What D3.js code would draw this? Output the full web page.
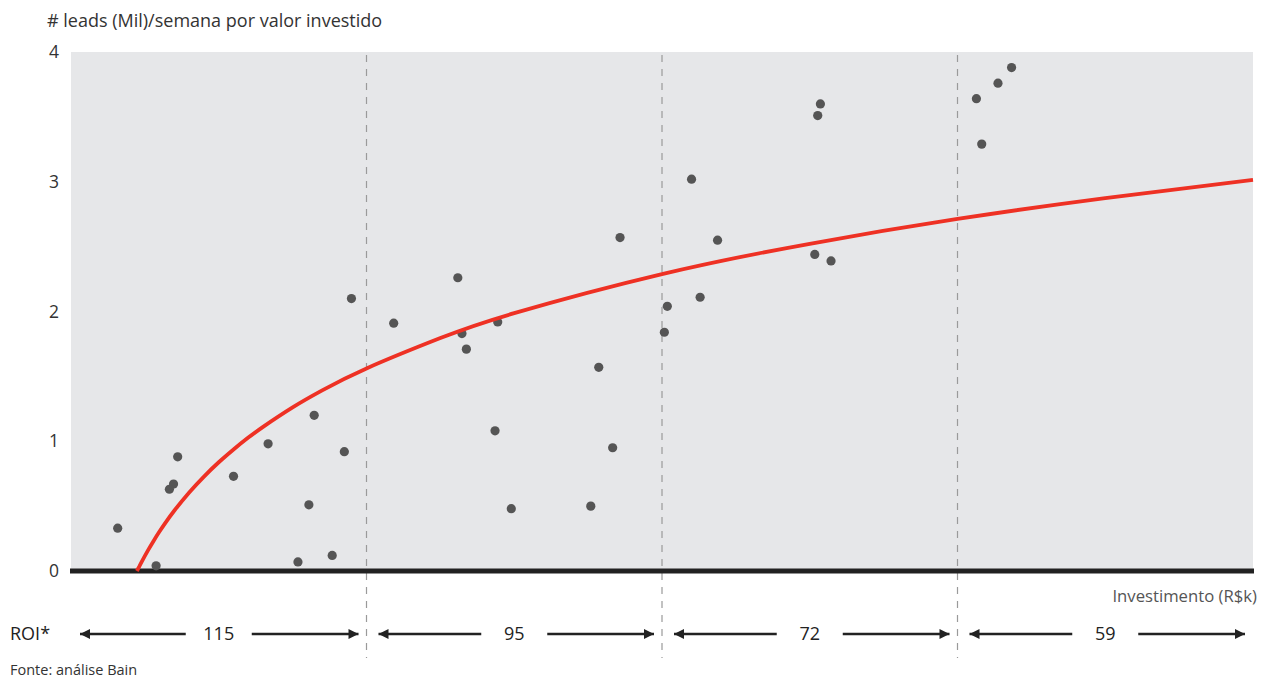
<!DOCTYPE html>
<html><head><meta charset="utf-8">
<script src="https://cdn.jsdelivr.net/npm/d3@7"></script>
<style>body{margin:0;background:#fff}svg{display:block}text{font-family:"Open Sans",sans-serif}</style>
</head><body><svg id="c" width="1269" height="680"></svg>
<script>
// Scatter points: investment (arbitrary units, 0-400) and leads (Mil)/semana
const pointX = [15.8,28.8,36.1,34.7,33.3,55.0,66.7,80.5,76.8,88.4,92.5,94.9,82.3,
  109.2,130.9,132.3,133.8,144.4,143.5,149.0,178.6,183.3,175.9,185.8,
  201.8,200.8,210.0,218.8,212.9,253.6,252.7,251.7,257.2,
  318.3,313.7,306.4,308.2];
const pointY = [0.33,0.04,0.88,0.67,0.63,0.73,0.98,0.51,0.07,0.12,0.92,2.10,1.20,
  1.91,2.26,1.83,1.71,1.92,1.08,0.48,1.57,0.95,0.50,2.57,
  2.04,1.84,3.02,2.55,2.11,3.60,3.51,2.44,2.39,
  3.88,3.76,3.64,3.29];
// Trend curve
const curveX = [22.3,23,24,26,28,30,32,35,40,45,50,55,60,65,75,85,100,125,150,200,250,300,350,400];
const curveY = [0,0.03,0.074,0.157,0.234,0.306,0.373,0.466,0.605,0.728,0.838,0.937,1.028,1.111,1.261,1.392,1.561,1.795,1.987,2.288,2.522,2.713,2.874,3.014];
// Investment bands and ROI
const bandEdges = [0,100,200,300,400];
const roiValues = ["115","95","72","59"];
const yTicks = [0,1,2,3,4];

const svg = d3.select("#c");
const x = d3.scaleLinear().domain([0,400]).range([71,1253]);
const y = d3.scaleLinear().domain([0,4]).range([571,52]);

// background
svg.append("rect").attr("x",x(0)).attr("y",y(4)).attr("width",x(400)-x(0)).attr("height",y(0)-y(4)).attr("fill","#e6e7e9");

// dashed dividers
svg.selectAll("line.div").data(bandEdges.slice(1,4)).join("line")
  .attr("x1",d=>x(d)).attr("x2",d=>x(d)).attr("y1",y(4)+3).attr("y2",658)
  .attr("stroke","#9a9a9a").attr("stroke-width",1.2).attr("stroke-dasharray","7,7");

// y axis labels
const yAxis = d3.axisLeft(y).tickValues(yTicks).tickSize(0).tickPadding(0).tickFormat(d3.format("d"));
const ga = svg.append("g").attr("transform","translate(59,0)").call(yAxis);
ga.select(".domain").remove();
ga.selectAll("text").attr("font-size",17.5).attr("fill","#333").attr("font-family","'Open Sans',sans-serif");

// title
svg.append("text").attr("x",47).attr("y",27).attr("font-size",18).attr("fill","#333").text("# leads (Mil)/semana por valor investido");

// baseline
svg.append("line").attr("x1",70).attr("x2",1254).attr("y1",y(0)).attr("y2",y(0)).attr("stroke","#222").attr("stroke-width",5);

// points
svg.selectAll("circle.p").data(pointX.map((d,i)=>[d,pointY[i]])).join("circle")
  .attr("cx",d=>x(d[0])).attr("cy",d=>y(d[1])).attr("r",4.6).attr("fill","#555");

// curve
const line = d3.line().x(d=>x(d[0])).y(d=>y(d[1])).curve(d3.curveNatural);
svg.append("path").attr("d",line(curveX.map((d,i)=>[d,curveY[i]])))
  .attr("fill","none").attr("stroke","#ee3124").attr("stroke-width",3.8);

// x axis label
svg.append("text").attr("x",1257).attr("y",602).attr("text-anchor","end").attr("font-size",16.7).attr("fill","#555").text("Investimento (R$k)");

// ROI row
const ry = 634;
svg.append("text").attr("x",10).attr("y",ry+6).attr("font-size",18).attr("fill","#222").text("ROI*");
const defs = svg.append("defs");
defs.append("marker").attr("id","ah").attr("viewBox","0 0 10 10").attr("refX",10).attr("refY",5)
  .attr("markerWidth",17).attr("markerHeight",10).attr("markerUnits","userSpaceOnUse").attr("orient","auto-start-reverse")
  .append("path").attr("d","M0,0L10,5L0,10Z").attr("fill","#222");
roiValues.forEach((v,i)=>{
  const a = i===0 ? x(bandEdges[i])+9 : x(bandEdges[i])+12;
  const b = x(bandEdges[i+1])-8;
  const m = (x(bandEdges[i])+x(bandEdges[i+1]))/2;
  svg.append("line").attr("x1",m-33).attr("x2",a).attr("y1",ry).attr("y2",ry)
    .attr("stroke","#222").attr("stroke-width",2.6).attr("marker-end","url(#ah)");
  svg.append("line").attr("x1",m+33).attr("x2",b).attr("y1",ry).attr("y2",ry)
    .attr("stroke","#222").attr("stroke-width",2.6).attr("marker-end","url(#ah)");
  svg.append("text").attr("x",m).attr("y",ry+6).attr("text-anchor","middle").attr("font-size",18).attr("fill","#222").text(v);
});

svg.append("text").attr("x",10).attr("y",675).attr("font-size",14.5).attr("fill","#333").text("Fonte: análise Bain");
</script></body></html>
